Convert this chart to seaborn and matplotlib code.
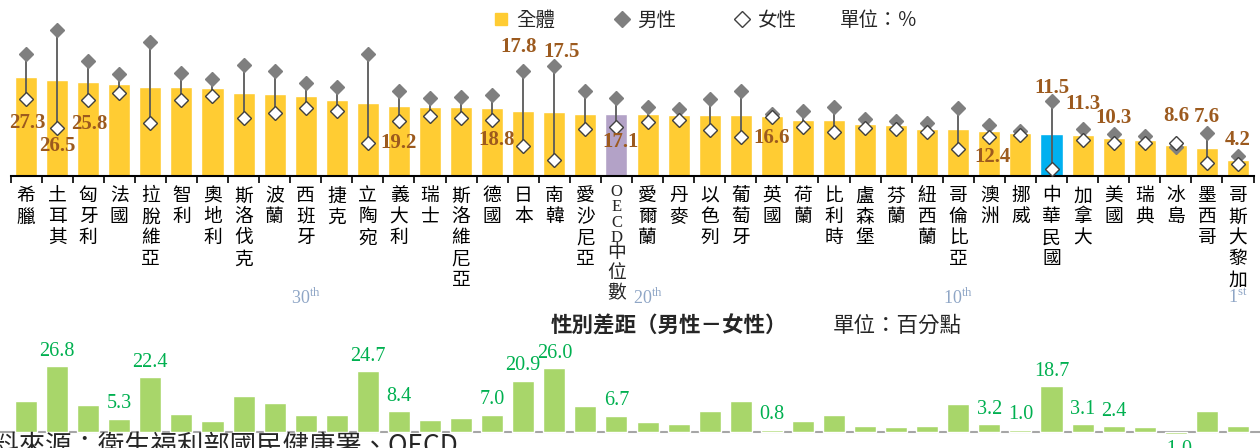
import numpy as np
import matplotlib
matplotlib.use('Agg')
import matplotlib.pyplot as plt
import matplotlib.transforms as mtransforms
from matplotlib.lines import Line2D
import seaborn as sns

countries = ['希臘', '土耳其', '匈牙利', '法國', '拉脫維亞', '智利', '奧地利', '斯洛伐克', '波蘭', '西班牙',
             '捷克', '立陶宛', '義大利', '瑞士', '斯洛維尼亞', '德國', '日本', '南韓', '愛沙尼亞', 'OECD中位數',
             '愛爾蘭', '丹麥', '以色列', '葡萄牙', '英國', '荷蘭', '比利時', '盧森堡', '芬蘭', '紐西蘭',
             '哥倫比亞', '澳洲', '挪威', '中華民國', '加拿大', '美國', '瑞典', '冰島', '墨西哥', '哥斯大黎加']
total = [27.3, 26.5, 25.8, 25.4, 24.6, 24.5, 24.2, 22.8, 22.6, 22.0,
         21.0, 20.2, 19.2, 19.1, 18.9, 18.8, 17.8, 17.5, 17.0, 17.1,
         16.9, 16.8, 16.8, 16.7, 16.6, 15.4, 15.3, 14.4, 13.9, 13.0,
         12.9, 12.4, 11.9, 11.5, 11.3, 10.3, 9.9, 8.6, 7.6, 4.2]
male = [33.7, 40.1, 31.7, 28.2, 37.0, 28.3, 26.6, 30.6, 28.8, 25.7,
        24.6, 33.6, 23.4, 21.4, 21.6, 22.3, 29.0, 30.4, 23.5, 21.5,
        19.0, 18.4, 21.2, 23.5, 17.0, 17.9, 18.9, 15.6, 15.1, 14.6,
        18.7, 14.0, 12.3, 20.5, 13.0, 11.4, 10.9, 8.0, 11.9, 5.5]
female = [21.2, 13.3, 20.8, 22.9, 14.6, 20.8, 22.0, 15.8, 17.2, 18.7,
          17.9, 8.9, 15.0, 16.6, 15.8, 15.3, 8.1, 4.4, 12.8, 13.4,
          14.9, 15.4, 12.6, 10.8, 16.2, 13.4, 12.0, 13.2, 12.9, 12.0,
          7.3, 10.8, 11.3, 1.8, 9.9, 9.0, 9.0, 9.0, 3.5, 3.1]
gap = [12.5, 26.8, 10.9, 5.3, 22.4, 7.5, 4.6, 14.7, 11.7, 6.9,
       6.8, 24.7, 8.4, 4.9, 5.8, 7.0, 20.9, 26.0, 10.6, 6.7,
       4.1, 3.1, 8.6, 12.8, 0.8, 4.5, 6.9, 2.4, 2.2, 2.6,
       11.4, 3.2, 1.0, 18.7, 3.1, 2.4, 1.9, -1.0, 8.4, 2.4]

# which totals get a label: index -> (anchor marker, dx pt, dy pt)
total_labels = {0: ('f', 1, -17), 1: ('f', 0, -13), 2: ('f', 1, -17), 12: ('f', 0, -15.5),
                15: ('f', 3, -14), 19: ('f', 3, -11), 24: ('f', 0, -15), 31: ('f', 2, -14.5),
                16: ('m', -3, 17), 17: ('m', 5, 10), 33: ('m', 0, 10), 34: ('m', 0, 17.5),
                35: ('m', 0, 11.5), 37: ('m', 0, 22), 38: ('m', 0, 11), 39: ('m', 0, 11.5)}
gap_labels = [1, 3, 4, 11, 12, 15, 16, 17, 19, 24, 31, 32, 33, 34, 35, 37]
ranks = {9: ('30', 'th'), 20: ('20', 'th'), 30: ('10', 'th'), 39: ('1', 'st')}

YELLOW = '#FFCC33'
PURPLE = '#B3A2C7'
BLUE = '#00B0F0'
GREEN = '#A8D66A'
BROWN = '#9C5A1E'
LGREEN = '#00B050'
GRAY = '#7F7F7F'

sns.set_theme(style='white')
plt.rcParams['font.family'] = ['Noto Sans CJK TC', 'DejaVu Sans']
plt.rcParams['mathtext.fontset'] = 'custom'
plt.rcParams['mathtext.rm'] = 'Liberation Serif'

fig = plt.figure(figsize=(12.6, 4.48), dpi=100)
ax1 = fig.add_axes([10.5 / 1260, (448 - 175.7) / 448, 1243 / 1260, 175.7 / 448])
ax2 = fig.add_axes([10.5 / 1260, 0, 1243 / 1260, 103 / 448])

n = len(countries)
xpos = np.arange(n)
oecd = countries.index('OECD中位數')
colors = [YELLOW] * n
colors[oecd] = PURPLE
colors[countries.index('中華民國')] = BLUE

sns.barplot(x=countries, y=total, hue=countries, palette=dict(zip(countries, colors)),
            order=countries, hue_order=countries, saturation=1, width=0.71,
            legend=False, ax=ax1)
ax1.vlines(xpos, female, male, color='#595959', lw=1.3, zorder=3)
ax1.plot(xpos, male, ls='', marker='D', ms=7.5, mfc=GRAY, mec=GRAY, zorder=4)
ax1.plot(xpos, female, ls='', marker='D', ms=7.5, mfc='white', mec='#404040', mew=1.0, zorder=5)

ax1.set_xlim(-0.5, n - 0.5)
ax1.set_ylim(0, 48.5)
for s in ['top', 'left', 'right']:
    ax1.spines[s].set_visible(False)
ax1.spines['bottom'].set_color('black')
ax1.spines['bottom'].set_linewidth(1.5)
ax1.set_yticks([])
ax1.set_ylabel('')
ax1.set_xticks(xpos)
ax1.set_xticklabels(['' if c == 'OECD中位數' else '\n'.join(c) for c in countries],
                    fontsize=13.5, linespacing=1.0, va='top', color='black')
ax1.set_xticks(np.arange(-0.5, n, 1), minor=True)
ax1.tick_params(axis='x', which='major', length=0, pad=7)
ax1.tick_params(axis='x', which='minor', length=5, width=1.2, color='black', direction='out', bottom=True)

trans = mtransforms.blended_transform_factory(ax1.transData, fig.transFigure)
ax1.text(oecd, 1 - 184 / 448, 'O\nE\nC\nD', transform=trans, ha='center', va='top',
         fontsize=12, linespacing=0.95, family='Liberation Serif')
ax1.text(oecd, 1 - 242 / 448, '中\n位\n數', transform=trans, ha='center', va='top',
         fontsize=13.5, linespacing=0.95)

for i, (anc, dx, dy) in total_labels.items():
    y = male[i] if anc == 'm' else female[i]
    ax1.annotate(f'{total[i]:.1f}', (i, y), xytext=(dx, dy), textcoords='offset points',
                 ha='center', va='center', fontsize=15, fontweight='bold',
                 family='Liberation Serif', color=BROWN, zorder=6)

handles = [Line2D([], [], ls='', marker='s', ms=9, mfc=YELLOW, mec=YELLOW),
           Line2D([], [], ls='', marker='D', ms=8, mfc=GRAY, mec=GRAY),
           Line2D([], [], ls='', marker='D', ms=8, mfc='white', mec='#404040')]
fig.legend(handles, ['全體', '男性', '女性'], ncol=3, loc='center',
           bbox_to_anchor=(645 / 1260, 1 - 20 / 448), frameon=False, fontsize=14,
           handlelength=0.8, handletextpad=0.4, columnspacing=3.0)
fig.text(840 / 1260, 1 - 20 / 448, '單位：％', fontsize=14, va='center', ha='left')

for i, (num, suf) in ranks.items():
    ax1.text(i, 1 - 298 / 448, num + '$^{\\mathrm{' + suf + '}}$', transform=trans,
             ha='center', va='center', fontsize=13, color='#8FA6C6', family='Liberation Serif')

# gap panel
sns.barplot(x=countries, y=gap, order=countries, color=GREEN, saturation=1, width=0.71, ax=ax2)
ax2.set_xlim(-0.5, n - 0.5)
ax2.set_ylim(-16 / 2.45, 87 / 2.45)
ax2.axis('off')
ax2.axhline(0, xmin=-0.01, xmax=1.01, color='#A6A6A6', lw=1.5, clip_on=False, zorder=0)
for i in gap_labels:
    v = gap[i]
    ax2.annotate(f'{v:.1f}', (i, v), xytext=(0, 4 if v >= 0 else -4), textcoords='offset points',
                 ha='center', va='bottom' if v >= 0 else 'top', fontsize=14.5,
                 family='Liberation Serif', color=LGREEN)

fig.text(551 / 1260, 1 - 326 / 448, '性別差距（男性－女性）', fontsize=15.5, fontweight='bold',
         va='center', ha='left')
fig.text(833 / 1260, 1 - 326 / 448, '單位：百分點', fontsize=15.5, va='center', ha='left')
fig.text(-33 / 1260, 1 - 433 / 448, '資料來源：衛生福利部國民健康署、OECD', fontsize=19,
         va='top', ha='left')

fig.savefig('out.png', dpi=100)
